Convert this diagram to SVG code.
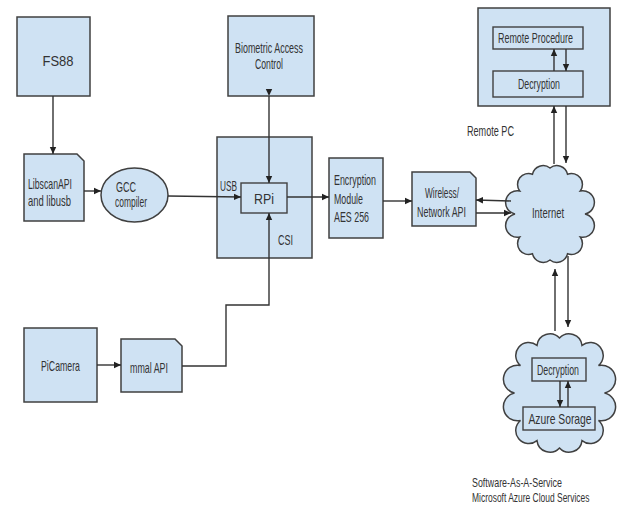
<svg xmlns="http://www.w3.org/2000/svg" width="620" height="508" viewBox="0 0 620 508">
<style>
.box{fill:#cfe2f3;stroke:#404040;stroke-width:1.5}
.inner{fill:#cfe2f3;stroke:#404040;stroke-width:1.4}
.t{font-family:"Liberation Sans",Arial,sans-serif;font-size:14.5px;fill:#333}
.t.s{font-size:13px}
.c{text-anchor:middle}
.ln{fill:none;stroke:#333;stroke-width:1.4}
</style>
<defs>
<marker id="ah" markerUnits="userSpaceOnUse" markerWidth="8" markerHeight="8" refX="7" refY="4" orient="auto">
<path d="M0,0.8 L7,4 L0,7.2 Z" fill="#222"/>
</marker>
</defs>
<rect width="620" height="508" fill="#fff"/>

<g id="fs88">
<rect class="box" x="17" y="17" width="73" height="79"/>
<text class="t c" x="58" y="66" textLength="31" lengthAdjust="spacingAndGlyphs">FS88</text>
</g>
<g id="biometric">
<rect class="box" x="228" y="16" width="86" height="80"/>
<text class="t c" x="269" y="53" textLength="68" lengthAdjust="spacingAndGlyphs">Biometric Access</text>
<text class="t c" x="269" y="69" textLength="28" lengthAdjust="spacingAndGlyphs">Control</text>
</g>
<g id="libscan">
<path class="box" d="M24,154 H77 L84,161 V221 H24 Z"/>
<text class="t" x="28" y="189" textLength="44" lengthAdjust="spacingAndGlyphs">LibscanAPI</text>
<text class="t" x="28" y="206" textLength="43" lengthAdjust="spacingAndGlyphs">and libusb</text>
</g>
<g id="gcc">
<ellipse class="box" cx="134.5" cy="195" rx="33.5" ry="27"/>
<text class="t" x="116" y="192" textLength="20" lengthAdjust="spacingAndGlyphs">GCC</text>
<text class="t" x="115" y="207" textLength="32" lengthAdjust="spacingAndGlyphs">compiler</text>
</g>
<g id="rpi-board">
<rect class="box" x="217" y="137" width="95" height="121"/>
<text class="t" x="220" y="191" textLength="17" lengthAdjust="spacingAndGlyphs">USB</text>
<text class="t" x="278" y="245" textLength="15" lengthAdjust="spacingAndGlyphs">CSI</text>
</g>
<g id="rpi">
<rect class="inner" x="241" y="183" width="46" height="30"/>
<text class="t c" x="264" y="204" textLength="20" lengthAdjust="spacingAndGlyphs">RPi</text>
</g>
<g id="picamera">
<rect class="box" x="24" y="328" width="73" height="74"/>
<text class="t c" x="60.5" y="371" textLength="39" lengthAdjust="spacingAndGlyphs">PiCamera</text>
</g>
<g id="mmal">
<path class="box" d="M121,339 H175 L182,346 V392 H121 Z"/>
<text class="t c" x="149" y="373" textLength="38" lengthAdjust="spacingAndGlyphs">mmal API</text>
</g>
<g id="encryption">
<rect class="box" x="329" y="158" width="54" height="80"/>
<text class="t" x="334" y="185" textLength="42" lengthAdjust="spacingAndGlyphs">Encryption</text>
<text class="t" x="334" y="204" textLength="29" lengthAdjust="spacingAndGlyphs">Module</text>
<text class="t" x="334" y="222" textLength="35" lengthAdjust="spacingAndGlyphs">AES 256</text>
</g>
<g id="wireless">
<path class="box" d="M412,172 H470 L476,178 V226 H412 Z"/>
<text class="t c" x="442" y="198" textLength="34" lengthAdjust="spacingAndGlyphs">Wireless/</text>
<text class="t c" x="441.5" y="217" textLength="49" lengthAdjust="spacingAndGlyphs">Network API</text>
</g>
<g id="remote-pc">
<rect class="box" x="478" y="8" width="132" height="98"/>
<text class="t" x="467" y="136" textLength="47" lengthAdjust="spacingAndGlyphs">Remote PC</text>
</g>
<g id="remote-procedure">
<rect class="inner" x="493" y="27" width="90" height="22"/>
<text class="t c" x="535.5" y="43" textLength="75" lengthAdjust="spacingAndGlyphs">Remote Procedure</text>
</g>
<g id="remote-decryption">
<rect class="inner" x="493" y="71" width="90" height="26"/>
<text class="t c" x="539" y="89" textLength="42" lengthAdjust="spacingAndGlyphs">Decryption</text>
</g>
<g id="internet">
<path class="box" d="M550,168 A11,11 0 0 1 567.5,174.2 A11,11 0 0 1 580.3,191 A11,11 0 0 1 585,214 A11,11 0 0 1 580.3,237 A11,11 0 0 1 567.5,253.8 A11,11 0 0 1 550,260 A11,11 0 0 1 532.5,253.8 A11,11 0 0 1 519.7,237 A11,11 0 0 1 515,214 A11,11 0 0 1 519.7,191 A11,11 0 0 1 532.5,174.2 A11,11 0 0 1 550,168 Z"/>
<text class="t c" x="548" y="218" textLength="32" lengthAdjust="spacingAndGlyphs">Internet</text>
</g>
<g id="azure-cloud">
<path class="box" d="M559.5,338 A13,13 0 0 1 582,345.4 A13,13 0 0 1 598.5,365.5 A13,13 0 0 1 604.5,393 A13,13 0 0 1 598.5,420.5 A13,13 0 0 1 582,440.6 A13,13 0 0 1 559.5,448 A13,13 0 0 1 537,440.6 A13,13 0 0 1 520.5,420.5 A13,13 0 0 1 514.5,393 A13,13 0 0 1 520.5,365.5 A13,13 0 0 1 537,345.4 A13,13 0 0 1 559.5,338 Z"/>
<text class="t s" transform="matrix(0.684 0 0 1 472 487)">Software-As-A-Service</text>
<text class="t s" transform="matrix(0.651 0 0 1 472 502)">Microsoft Azure Cloud Services</text>
</g>
<g id="azure-decryption">
<rect class="inner" x="532" y="358" width="54" height="23"/>
<text class="t c" x="558" y="375" textLength="42" lengthAdjust="spacingAndGlyphs">Decryption</text>
</g>
<g id="azure-storage">
<rect class="inner" x="523" y="407" width="72" height="23"/>
<text class="t c" x="560" y="424" textLength="63" lengthAdjust="spacingAndGlyphs">Azure Sorage</text>
</g>

<g id="connectors">
<path class="ln" marker-end="url(#ah)" d="M53,96 V154"/>
<path class="ln" marker-end="url(#ah)" d="M84,191 H101"/>
<path class="ln" marker-end="url(#ah)" d="M168,196 L241,197"/>
<path class="ln" marker-start="url(#ah)" marker-end="url(#ah)" d="M269,96 V183"/>
<path class="ln" marker-end="url(#ah)" d="M182,366 H226 V305 H269 V213"/>
<path class="ln" marker-end="url(#ah)" d="M97,365 H121"/>
<path class="ln" marker-end="url(#ah)" d="M287,197 H329"/>
<path class="ln" marker-end="url(#ah)" d="M383,201 H412"/>
<path class="ln" marker-end="url(#ah)" d="M511,201 L476,200"/>
<path class="ln" marker-end="url(#ah)" d="M476,213 H511"/>
<path class="ln" marker-end="url(#ah)" d="M554,71 V49"/>
<path class="ln" marker-end="url(#ah)" d="M566,49 V71"/>
<path class="ln" marker-end="url(#ah)" d="M554,164 V106"/>
<path class="ln" marker-end="url(#ah)" d="M566,106 V163"/>
<path class="ln" marker-end="url(#ah)" d="M555,331 V269"/>
<path class="ln" marker-end="url(#ah)" d="M568,256 V327"/>
<path class="ln" marker-end="url(#ah)" d="M560,381 V407"/>
<path class="ln" marker-end="url(#ah)" d="M568,407 V381"/>
</g>
</svg>
